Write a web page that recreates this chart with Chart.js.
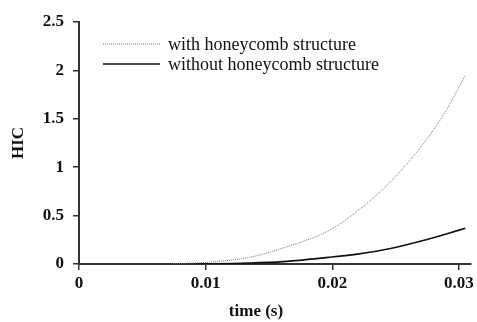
<!DOCTYPE html>
<html><head><meta charset="utf-8">
<script src="https://cdn.jsdelivr.net/npm/chart.js@4/dist/chart.umd.min.js"></script>
<style>html,body{margin:0;padding:0;background:#fff;}canvas{display:block;}</style>
</head><body>
<canvas id="c" width="477" height="322"></canvas>
<script>
const timeValues = [0.0068, 0.0103, 0.0135, 0.0161, 0.0198, 0.0221, 0.0246, 0.0274, 0.0290, 0.0305];
const withHoneycomb = [0, 0.02, 0.07, 0.165, 0.35, 0.56, 0.85, 1.28, 1.59, 1.95];
const withoutHoneycomb = [0, 0.002, 0.01, 0.025, 0.07, 0.105, 0.16, 0.25, 0.31, 0.37];
const xTicks = [0, 0.01, 0.02, 0.03];
const yTicks = [0, 0.5, 1, 1.5, 2, 2.5];
const seriesNames = ['with honeycomb structure', 'without honeycomb structure'];
const xTitle = 'time (s)';
const yTitle = 'HIC';

const toPts = (xs, ys) => xs.map((x, i) => ({x, y: ys[i]}));
const tickFont = {family: '"Liberation Serif", serif', size: 17, weight: 'bold'};

const legendPlugin = {
  id: 'insideLegend',
  afterDraw(chart) {
    const ctx = chart.ctx;
    const ds = chart.data.datasets;
    ctx.save();
    ctx.font = '18px "Liberation Serif", serif';
    ctx.textBaseline = 'middle';
    ds.forEach((d, i) => {
      const y = 44 + i * 20;
      ctx.beginPath();
      ctx.strokeStyle = d.borderColor;
      ctx.lineWidth = d.borderWidth;
      ctx.setLineDash(d.borderDash || []);
      ctx.moveTo(103, y);
      ctx.lineTo(160, y);
      ctx.stroke();
      ctx.setLineDash([]);
      ctx.fillStyle = '#111';
      ctx.fillText(d.label, 168, y + 1);
    });
    // x-axis title
    ctx.font = 'bold 17px "Liberation Serif", serif';
    ctx.textAlign = 'center';
    ctx.fillText(xTitle, 256, 312);
    ctx.restore();
  }
};

new Chart(document.getElementById('c'), {
  type: 'line',
  data: {
    datasets: [
      {label: seriesNames[0], data: toPts(timeValues, withHoneycomb), borderColor: '#777', borderWidth: 1, borderDash: [1, 1], pointRadius: 0, cubicInterpolationMode: 'monotone'},
      {label: seriesNames[1], data: toPts(timeValues, withoutHoneycomb), borderColor: '#111', borderWidth: 1.6, pointRadius: 0, cubicInterpolationMode: 'monotone'}
    ]
  },
  options: {
    responsive: false,
    animation: false,
    layout: {padding: {left: 0, right: 5, top: 22, bottom: 0}},
    plugins: {legend: {display: false}, tooltip: {enabled: false}},
    scales: {
      x: {
        type: 'linear', min: 0, max: 0.0309,
        afterBuildTicks: s => { s.ticks = xTicks.map(v => ({value: v})); },
        afterFit: s => { s.height = 58; },
        ticks: {font: tickFont, color: '#111', padding: 3, callback: v => String(v), maxRotation: 0},
        grid: {display: true, drawOnChartArea: false, tickLength: 6, color: '#333', lineWidth: 1.5},
        border: {display: true, color: '#333', width: 2}
      },
      y: {
        min: 0, max: 2.5,
        afterBuildTicks: s => { s.ticks = yTicks.map(v => ({value: v})); },
        afterFit: s => { s.width = 79; },
        ticks: {font: tickFont, color: '#111', padding: 9, callback: v => String(v)},
        grid: {display: true, drawOnChartArea: false, tickLength: 6, color: '#333', lineWidth: 1.5},
        border: {display: true, color: '#333', width: 2},
        title: {display: true, text: yTitle, font: tickFont, color: '#111', padding: {top: 8, bottom: 0}}
      }
    }
  },
  plugins: [legendPlugin]
});
</script>
</body></html>
